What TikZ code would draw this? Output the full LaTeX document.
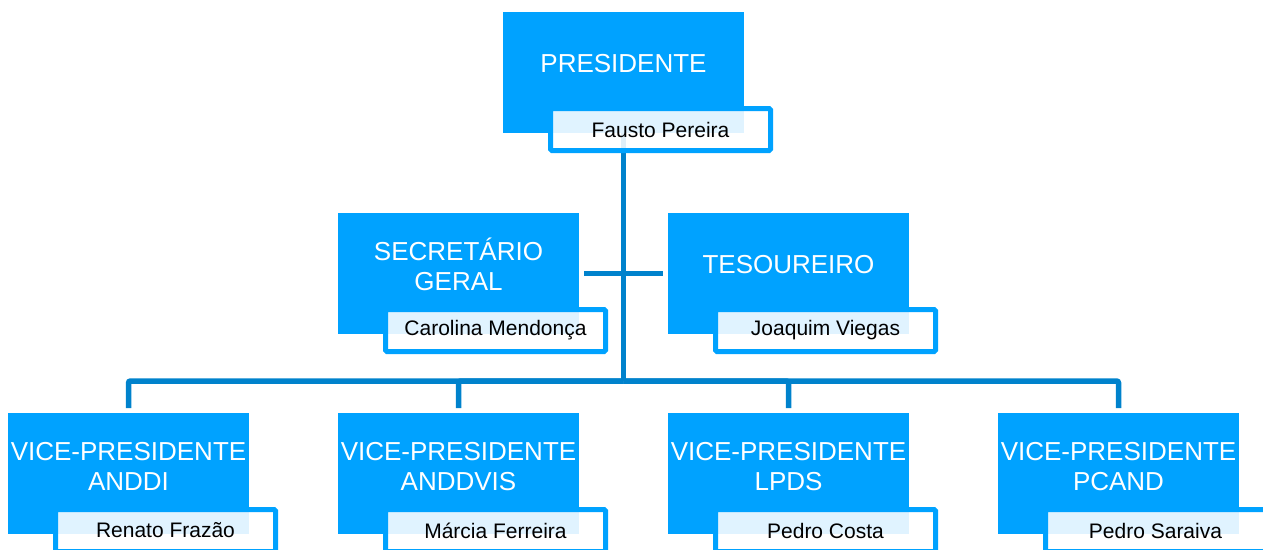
\documentclass[tikz,border=0pt]{standalone}
\usepackage{fontspec}
\setmainfont{Liberation Sans}
\definecolor{boxblue}{HTML}{00A2FF}
\definecolor{linkblue}{HTML}{0082CC}
\tikzset{
  rolebox/.style={fill=boxblue, minimum width=241pt, minimum height=121pt, inner sep=0pt, outer sep=0pt},
  roletext/.style={text=white, align=center, inner sep=0pt, font=\fontsize{26}{30}\selectfont},
  namebox/.style={draw=boxblue, line width=5pt, fill=white, fill opacity=0.88, text opacity=1,
    rounded corners=1.5pt, minimum width=220pt, minimum height=42pt, inner sep=0pt, outer sep=0pt,
    anchor=north west, font=\fontsize{21}{24}\selectfont},
  link/.style={draw=linkblue, line width=5.5pt, rounded corners=2pt}
}
\begin{document}
\begin{tikzpicture}[x=1pt,y=-1pt]
	\useasboundingbox (0,0) rectangle (1263,549);
	\clip (0,0) rectangle (1263,549);
	% cargos
	\node [rolebox] (pres) at (623.5,72.5) {};
	\node [rolebox] (sec) at (458.5,273.5) {};
	\node [rolebox] (tes) at (788.5,273.5) {};
	\node [rolebox] (vp1) at (128.5,473.5) {};
	\node [rolebox] (vp2) at (458.5,473.5) {};
	\node [rolebox] (vp3) at (788.5,473.5) {};
	\node [rolebox] (vp4) at (1118.5,473.5) {};
	\node [roletext] (presT) at ([yshift=9pt]pres.center) {PRESIDENTE};
	\node [roletext] (secT) at ([yshift=9pt]sec.center) {SECRETÁRIO\\GERAL};
	\node [roletext] (tesT) at ([yshift=9pt]tes.center) {TESOUREIRO};
	\node [roletext] (vp1T) at ([yshift=7pt]vp1.center) {VICE-PRESIDENTE\\ANDDI};
	\node [roletext] (vp2T) at ([yshift=7pt]vp2.center) {VICE-PRESIDENTE\\ANDDVIS};
	\node [roletext] (vp3T) at ([yshift=7pt]vp3.center) {VICE-PRESIDENTE\\LPDS};
	\node [roletext] (vp4T) at ([yshift=7pt]vp4.center) {VICE-PRESIDENTE\\PCAND};
	% ligacoes
	\coordinate (hub) at (623.5,381);
	\draw [link] (pres.south) -- (hub);
	\draw [link, shorten <=5pt, shorten >=5pt] (sec.east) -- (tes.west);
	\foreach \v in {vp1,vp2,vp3,vp4}
		\draw [link] (hub) -| ([yshift=5pt]\v.north);
	% nomes
	\node [namebox] (presN) at ([xshift=47.5pt,yshift=-96.5pt]pres.north west) {Fausto Pereira};
	\node [namebox] (secN) at ([xshift=47.5pt,yshift=-96.5pt]sec.north west) {Carolina Mendonça};
	\node [namebox] (tesN) at ([xshift=47.5pt,yshift=-96.5pt]tes.north west) {Joaquim Viegas};
	\node [namebox] (vp1N) at ([xshift=47.5pt,yshift=-96.5pt]vp1.north west) {Renato Frazão};
	\node [namebox] (vp2N) at ([xshift=47.5pt,yshift=-96.5pt]vp2.north west) {Márcia Ferreira};
	\node [namebox] (vp3N) at ([xshift=47.5pt,yshift=-96.5pt]vp3.north west) {Pedro Costa};
	\node [namebox] (vp4N) at ([xshift=47.5pt,yshift=-96.5pt]vp4.north west) {Pedro Saraiva};
\end{tikzpicture}
\end{document}
